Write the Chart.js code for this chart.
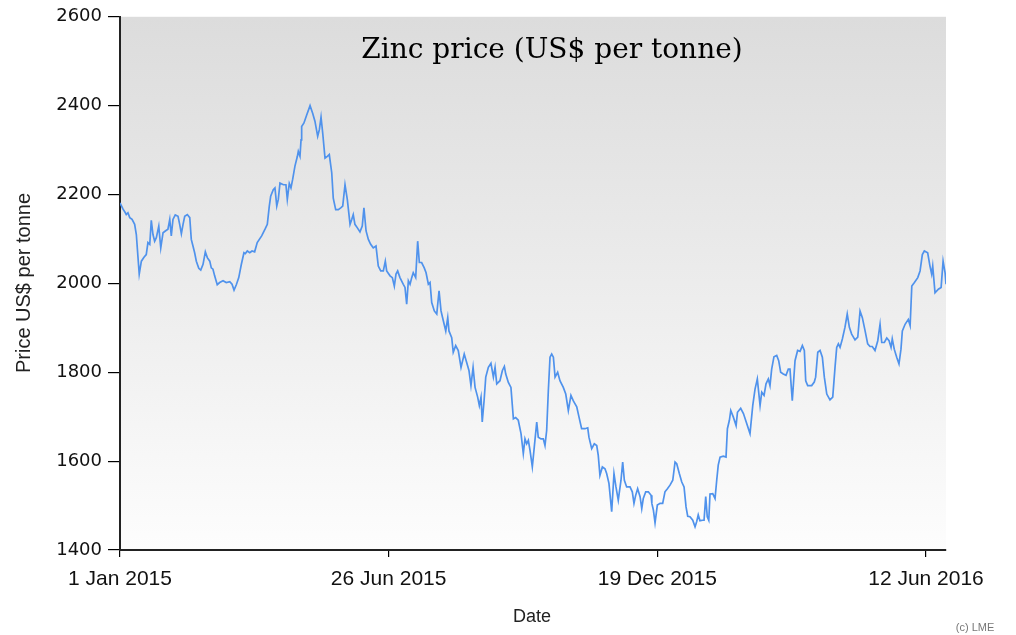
<!DOCTYPE html>
<html>
<head>
<meta charset="utf-8">
<script src="https://cdn.jsdelivr.net/npm/chart.js@4/dist/chart.umd.min.js"></script>
<style>
html,body{margin:0;padding:0;background:#fff;}
#wrap{width:1016px;height:635px;}
</style>
</head>
<body>
<div id="wrap"><canvas id="c" width="1016" height="635"></canvas></div>
<script>
// Days since 1 Jan 2015
const days = [0,2.0,3.5,4.1,5.2,6.4,7.9,9.6,10.7,11.8,12.6,14.0,15.7,17.2,18.3,19.5,20.5,21.6,22.7,23.8,25.4,26.7,28.2,29.7,31.4,32.6,33.6,34.7,36.2,38.0,39.1,40.2,41.3,42.4,44.1,45.7,46.7,47.8,48.9,50.0,51.6,52.9,54.4,55.9,57.2,58.8,59.8,60.9,62.0,63.7,65.3,67.5,69.6,71.9,73.4,74.7,76.2,77.8,79.5,81.2,82.1,83.4,85.0,86.5,88.2,89.9,
92.8,95.0,96.5,97.8,98.7,100.4,101.5,102.7,103.7,104.8,107.0,108.7,109.6,110.9,112.0,113.1,114.6,116.2,116.8,117.9,118.6,119.0,120.5,122.3,124.5,126.2,127.7,129.5,130.6,131.7,132.8,134.3,135.8,137.1,138.7,139.7,141.3,143.0,144.6,145.9,147.4,148.9,150.7,151.8,152.8,153.9,155.5,157.2,158.7,159.8,161.2,162.7,164.2,165.9,167.7,169.2,170.8,172.5,173.8,174.7,
176.9,178.4,179.7,180.8,181.9,183.4,185.6,186.7,187.8,188.9,190.0,191.1,192.1,193.7,195.0,196.1,197.6,199.3,200.5,202.0,203.1,204.2,205.9,207.5,209.0,210.3,211.8,213.4,214.7,215.5,217.3,218.3,219.9,221.6,223.4,225.5,227.1,228.6,229.9,231.3,232.6,234.3,235.4,236.5,237.3,238.5,239.6,241.3,243.0,244.6,245.7,246.8,248.9,250.5,251.8,252.7,254.4,256.1,257.7,259.2,260.9,262.7,264.2,265.3,266.4,267.5,268.6,270.1,271.4,273.0,274.0,275.8,277.3,278.4,279.5,280.6,281.7,282.8,283.9,285.0,286.7,288.2,290.4,292.0,293.7,295.4,296.9,299.2,300.7,302.4,304.6,306.4,307.2,309.0,310.7,312.3,313.3,314.4,316.0,317.7,318.8,320.3,322.1,323.6,324.9,326.4,328.2,329.3,330.4,331.9,334.1,335.6,336.7,337.8,339.1,340.7,341.8,342.8,344.4,346.1,347.9,348.4,349.4,350.5,352.0,353.8,355.5,357.0,358.6,360.3,362.1,363.6,364.7,366.4,368.0,369.5,370.8,371.9,373.4,375.2,376.7,377.8,378.8,379.9,381.7,382.6,383.7,384.7,385.7,386.5,388.3,389.8,390.9,391.9,393.1,395.2,397.0,397.9,399.2,400.1,401.8,403.6,404.5,406.6,408.4,410.6,412.7,414.5,416.0,417.5,419.3,420.4,421.9,423.2,424.7,425.8,426.9,428.4,430.2,431.5,432.8,434.5,436.3,437.8,438.9,440.4,442.2,443.9,445.5,447.0,448.3,449.2,450.5,453.1,454.8,455.7,457.1,458.6,460.1,461.4,463.0,465.1,466.9,468.4,469.5,470.6,471.7,473.2,474.9,476.4,477.8,479.3,481.5,483.3,484.8,486.3,488.1,489.8,491.3,492.8,494.6,496.4,497.9,499.0,500.7,502.3,503.8,505.1,505.9,507.2,508.8,510.3,511.6,512.5,514.3,516.4,517.6,518.7,520.4,522.6,524.1,525.6,526.9,529.1,530.6,531.7,532.4,533.9,536.1,537.9,539.2,540.5,541.1];

// Zinc price, US$ per tonne
const prices = [2181,2167,2159,2155,2159,2148,2144,2133,2110,2058,2021,2050,2059,2065,2092,2088,2142,2110,2095,2103,2129,2080,2114,2118,2122,2144,2107,2144,2154,2151,2133,2112,2133,2151,2155,2148,2099,2084,2069,2050,2034,2030,2043,2071,2058,2050,2035,2032,2017,1997,2002,2006,2002,2004,1998,1985,1997,2013,2043,2069,2067,2073,2069,2073,2071,2092,
2107,2122,2133,2174,2196,2211,2215,2174,2189,2226,2222,2222,2189,2225,2215,2234,2264,2286,2297,2286,2323,2353,2361,2379,2400,2383,2365,2331,2346,2374,2338,2282,2286,2290,2249,2192,2166,2166,2170,2174,2222,2189,2133,2144,2155,2133,2125,2116,2129,2170,2118,2099,2088,2080,2084,2039,2028,2028,2050,2028,
2017,2013,1994,2021,2028,2013,1998,1991,1953,2006,1998,2013,2024,2013,2095,2047,2047,2035,2024,1998,2002,1957,1938,1931,1983,1938,1916,1893,1923,1893,1878,1845,1860,1849,1811,1841,1822,1804,1770,1811,1766,1744,1725,1744,1688,1736,1789,1811,1820,1789,1811,1774,1781,1804,1813,1796,1777,1766,1695,1698,1692,1662,1617,1650,1639,1647,1624,1587,1632,1688,1654,1650,1650,1635,1669,1759,1834,1841,1834,1789,1800,1781,1766,1751,1714,1748,1736,1722,1699,1673,1673,1675,1654,1628,1639,1635,1613,1568,1587,1583,1572,1550,1486,1572,1542,1512,1557,1598,1557,1542,1542,1531,1505,1523,1538,1520,1493,1516,1531,1531,1523,1505,1490,1461,1501,1505,1505,1531,1538,1546,1557,1598,1594,1572,1553,1542,1497,1476,1475,1467,1452,1464,1479,1466,1467,1467,1520,1475,1467,1526,1527,1516,1557,1591,1609,1611,1609,1673,1692,1714,1699,1680,1710,1719,1707,1684,1662,1725,1762,1785,1725,1755,1748,1774,1785,1770,1807,1835,1838,1826,1800,1796,1793,1807,1807,1736,1826,1849,1847,1860,1849,1781,1770,1770,1778,1789,1845,1849,1834,1789,1751,1738,1744,1811,1856,1864,1856,1875,1901,1931,1901,1886,1873,1879,1938,1923,1893,1864,1858,1858,1849,1871,1908,1867,1867,1877,1871,1856,1875,1852,1834,1819,1852,1893,1908,1919,1905,1994,2002,2013,2028,2065,2073,2069,2039,2021,2039,1979,1987,1991,2050,2024,1998];

const tickDays = [0, 176, 352, 528];
const tickLabels = ['1 Jan 2015', '26 Jun 2015', '19 Dec 2015', '12 Jun 2016'];
const yTicks = [1400, 1600, 1800, 2000, 2200, 2400, 2600];

const chartTitle = 'Zinc price (US$ per tonne)';
const yTitle = 'Price US$ per tonne';
const xTitle = 'Date';
const credit = '(c) LME';

const points = days.map((d, i) => ({x: d, y: prices[i]}));

const decor = {
  id: 'decor',
  beforeDraw(chart) {
    const {ctx, chartArea: a} = chart;
    ctx.save();
    const g = ctx.createLinearGradient(0, a.top, 0, a.bottom);
    g.addColorStop(0, '#dcdcdc');
    g.addColorStop(0.5, '#ececec');
    g.addColorStop(1, '#fdfdfd');
    ctx.fillStyle = g;
    ctx.fillRect(a.left, a.top, a.right - a.left, a.bottom - a.top);
    ctx.restore();
  },
  afterDraw(chart) {
    const {ctx} = chart;
    ctx.save();
    ctx.fillStyle = '#000';
    ctx.textAlign = 'center';
    ctx.textBaseline = 'middle';
    ctx.font = '28px "DejaVu Serif"';
    ctx.fillText(chartTitle, 552, 51);
    ctx.fillStyle = '#222';
    ctx.font = '18px "Liberation Sans"';
    ctx.fillText(xTitle, 532, 617);
    ctx.save();
    ctx.translate(24, 283);
    ctx.rotate(-Math.PI / 2);
    ctx.font = '20px "Liberation Sans"';
    ctx.fillText(yTitle, 0, 0);
    ctx.restore();
    ctx.fillStyle = '#777';
    ctx.font = '11px "Liberation Sans"';
    ctx.fillText(credit, 975, 628);
    ctx.restore();
  }
};

new Chart(document.getElementById('c'), {
  type: 'line',
  data: {
    datasets: [{
      data: points,
      borderColor: '#4f92ec',
      borderWidth: 1.7,
      pointRadius: 0,
      tension: 0,
      fill: false
    }]
  },
  options: {
    responsive: false,
    animation: false,
    events: [],
    layout: {padding: {left: 0, right: 70, top: 15, bottom: 0}},
    plugins: {legend: {display: false}, tooltip: {enabled: false}, title: {display: false}},
    scales: {
      x: {
        type: 'linear',
        min: 0,
        max: 541.1,
        afterBuildTicks: s => { s.ticks = tickDays.map(v => ({value: v})); },
        afterFit: s => { s.height = 85; },
        ticks: {
          callback: (v) => { const i = tickDays.indexOf(v); return i >= 0 ? tickLabels[i] : ''; },
          color: '#111',
          font: {family: 'Liberation Sans', size: 21},
          padding: 10,
          maxRotation: 0,
          autoSkip: false
        },
        grid: {drawOnChartArea: false, drawTicks: true, tickLength: 7, color: '#000', lineWidth: 1.2},
        border: {display: true, color: '#222', width: 2}
      },
      y: {
        type: 'linear',
        min: 1400,
        max: 2600,
        afterBuildTicks: s => { s.ticks = yTicks.map(v => ({value: v})); },
        afterFit: s => { s.width = 120; },
        ticks: {
          callback: (v) => String(v),
          color: '#111',
          font: {family: 'DejaVu Sans', size: 18},
          padding: 6
        },
        grid: {drawOnChartArea: false, drawTicks: true, tickLength: 12, color: '#000', lineWidth: 1.2},
        border: {display: true, color: '#222', width: 2}
      }
    }
  },
  plugins: [decor]
});
</script>
</body>
</html>
